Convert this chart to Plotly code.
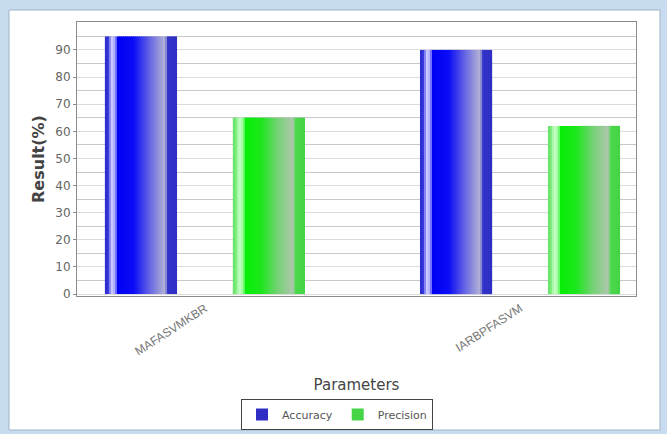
import plotly.graph_objects as go

# Chart data
categories = ["MAFASVMKBR", "IARBPFASVM"]
series_names = ["Accuracy", "Precision"]
accuracy = [95, 90]
precision = [65, 62]
y_ticks = list(range(0, 100, 10))

# Bar styling: centre offset of each series inside its category, and width
bar_offsets = [-0.203, 0.203]
bar_width = 0.229
n_slices = 36

# Colour stops across the width of a bar (fraction, hex colour) giving a shaded look
blue_stops = [
    (0.00, "#2a2ac8"), (0.06, "#3a3ae4"), (0.08, "#d6d6ff"), (0.14, "#a8a8ff"),
    (0.18, "#0000f4"), (0.40, "#0c0cf6"), (0.62, "#6565e4"), (0.84, "#b6b6d6"),
    (0.86, "#3434cc"), (1.00, "#2e2ec4"),
]
green_stops = [
    (0.00, "#62e062"), (0.06, "#86f286"), (0.08, "#d2ffd2"), (0.14, "#9cff9c"),
    (0.18, "#08ee08"), (0.40, "#1ee61e"), (0.62, "#74d274"), (0.84, "#b0c6b0"),
    (0.86, "#4cd84c"), (1.00, "#44d444"),
]


def hex_to_rgb(h):
    h = h.lstrip("#")
    return tuple(int(h[i:i + 2], 16) for i in (0, 2, 4))


def colour_at(stops, t):
    for (t0, c0), (t1, c1) in zip(stops[:-1], stops[1:]):
        if t0 <= t <= t1:
            f = 0 if t1 == t0 else (t - t0) / (t1 - t0)
            a, b = hex_to_rgb(c0), hex_to_rgb(c1)
            r, g, bl = (round(a[i] + (b[i] - a[i]) * f) for i in range(3))
            return f"rgb({r},{g},{bl})"
    return stops[-1][1]


fig = go.Figure()

for name, values, centre, stops in zip(
    series_names, [accuracy, precision], bar_offsets, [blue_stops, green_stops]
):
    dw = bar_width / n_slices
    for k in range(n_slices):
        t_mid = (k + 0.5) / n_slices
        last = k == n_slices - 1
        fig.add_trace(go.Bar(
            x=categories,
            y=values,
            offset=centre - bar_width / 2 + k * dw,
            # slices overlap their right neighbour slightly so no seams show
            width=dw if last else dw * 1.6,
            marker=dict(color=colour_at(stops, t_mid), line=dict(width=0)),
            name=name,
            legendgroup=name,
            showlegend=last,
            hoverinfo="skip",
        ))

# Plot area occupies x 77..636, y 22..296 pixels
L, R, T, B = 77, 31, 22, 138
W, H = 667, 434
pw, ph = W - L - R, H - T - B


def px_x(p):
    return (p - L) / pw


def px_y(p):
    return (H - B - p) / ph


# Window frame around the chart panel
fig.add_shape(type="rect", xref="paper", yref="paper",
              x0=px_x(9), x1=px_x(660), y0=px_y(430), y1=px_y(10),
              fillcolor="white", line=dict(color="#9fb3c8", width=1), layer="below")

fig.update_layout(
    width=W, height=H,
    margin=dict(l=L, r=R, t=T, b=B, autoexpand=False),
    paper_bgcolor="#c8dcf0",
    plot_bgcolor="#c0c0c0",
    barmode="overlay",
    font=dict(family="DejaVu Sans", color="#555555"),
    legend=dict(
        orientation="h",
        x=px_x(337), xanchor="center",
        y=px_y(399), yanchor="top",
        bgcolor="white",
        bordercolor="#444444", borderwidth=1,
        font=dict(size=11, color="#555555"),
        itemwidth=30,
        traceorder="normal",
    ),
)

fig.update_xaxes(
    type="category",
    automargin=False,
    range=[-0.406, 1.368],
    tickangle=-33,
    tickfont=dict(size=12, color="#777777", family="Liberation Sans"),
    ticks="",
    showgrid=False,
    showline=True, linecolor="#8c8c8c", linewidth=1, mirror=True,
    title=dict(text="Parameters", font=dict(size=15, color="#444444"), standoff=22),
)

fig.update_yaxes(
    automargin=False,
    range=[-0.7, 100.3],
    tickvals=y_ticks,
    tickfont=dict(size=12, color="#666666"),
    ticks="outside", ticklen=3, tickcolor="#8c8c8c",
    showgrid=True, gridcolor="#dcdcdc", gridwidth=1,
    minor=dict(dtick=5, tick0=5, showgrid=True, gridcolor="#c9c9c9", ticks=""),
    zeroline=False,
    showline=True, linecolor="#8c8c8c", linewidth=1, mirror=True,
    title=dict(text="<b>Result(%)</b>", font=dict(size=16, color="#444444"), standoff=6),
)

fig.write_html("out.html")
